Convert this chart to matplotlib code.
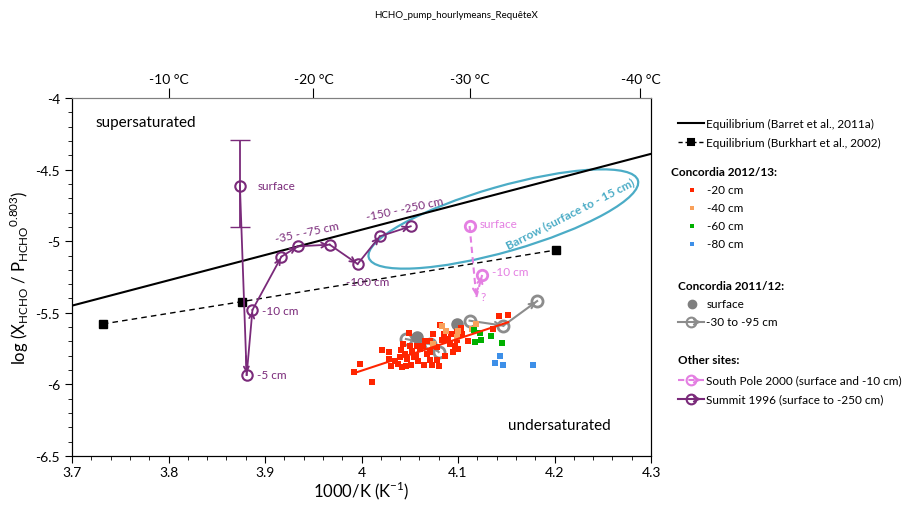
import numpy as np
import matplotlib
matplotlib.use('Agg')
import matplotlib.pyplot as plt
from matplotlib.lines import Line2D
from matplotlib.patches import Ellipse, FancyArrowPatch
from matplotlib.transforms import ScaledTranslation
from matplotlib.ticker import MultipleLocator, FuncFormatter

plt.rcParams['font.family'] = ['Lato', 'DejaVu Sans']
plt.rcParams['axes.unicode_minus'] = False

# equilibrium lines
barret_x = [3.70, 4.30]
barret_y = [-5.45, -4.39]
burkhart_x = [3.732, 3.876, 4.202]
burkhart_y = [-5.578, -5.422, -5.061]

# Concordia 2012/13 (by depth)
c20_x = [3.998, 4.011, 4.021, 4.029, 4.031, 4.040, 4.041, 4.038, 4.042, 4.046,
         4.049, 4.050, 4.052, 4.045, 4.051, 4.056, 4.059, 4.065, 4.064, 4.066,
         4.068, 4.071, 4.073, 4.074, 4.074, 4.078, 4.080, 4.081, 4.083, 4.087,
         4.090, 4.095, 4.097, 4.100, 4.093, 4.103, 4.110, 4.136, 4.142, 4.152,
         4.071, 4.057, 4.061, 4.054, 4.047, 4.085, 4.099, 4.104, 4.078, 4.035,
         4.028, 4.043, 4.071, 4.092, 4.099, 3.992]
c20_y = [-5.858, -5.985, -5.758, -5.776, -5.874, -5.811, -5.760, -5.858, -5.881, -5.869,
         -5.643, -5.730, -5.765, -5.788, -5.865, -5.800, -5.835, -5.865, -5.730, -5.695,
         -5.788, -5.827, -5.865, -5.648, -5.730, -5.830, -5.874, -5.583, -5.690, -5.800,
         -5.683, -5.772, -5.730, -5.753, -5.648, -5.606, -5.695, -5.613, -5.520, -5.513,
         -5.776, -5.730, -5.753, -5.811, -5.823, -5.648, -5.632, -5.648, -5.741, -5.835,
         -5.823, -5.718, -5.695, -5.718, -5.688, -5.913]
c40_x = [4.083, 4.088, 4.074, 4.099, 4.100, 4.119, 4.115]
c40_y = [-5.590, -5.625, -5.718, -5.667, -5.625, -5.578, -5.613]
c60_x = [4.117, 4.123, 4.124, 4.118, 4.134, 4.146]
c60_y = [-5.620, -5.643, -5.690, -5.702, -5.664, -5.713]
c80_x = [4.144, 4.138, 4.147, 4.178]
c80_y = [-5.802, -5.853, -5.862, -5.865]

# Concordia 2011/12
c11_surf_x = [4.058, 4.099]
c11_surf_y = [-5.667, -5.580]
c11_deep1_x = [4.046, 4.071, 4.080]
c11_deep1_y = [-5.683, -5.718, -5.774]
c11_deep2_x = [4.112, 4.147, 4.182]
c11_deep2_y = [-5.555, -5.590, -5.418]

# South Pole 2000
sp_x = [4.112, 4.125]
sp_y = [-4.894, -5.236]
sp_q = (4.119, -5.390)

# Summit 1996 (surface, -5, -10, -35..-75, -100, -150..-250)
sm_x = [3.874, 3.881, 3.887, 3.917, 3.934, 3.967, 3.996, 4.019, 4.051]
sm_y = [-4.612, -5.934, -5.480, -5.108, -5.036, -5.024, -5.159, -4.966, -4.896]
sm_err = [[0.29], [0.32]]

top_temps = [-10, -20, -30, -40]

purple = '#7a2a7a'
pink = '#e47fe2'
gray = '#8c8c8c'
cyan = '#4bacc6'


def arrow(ax, x0, y0, x1, y1, color, ls='-', lw=1.3):
    ax.plot([x0, x1], [y0, y1], color=color, ls=ls, lw=lw, zorder=3)
    ax.annotate('', xy=(x1, y1), xytext=(x0 + 0.9 * (x1 - x0), y0 + 0.9 * (y1 - y0)),
                arrowprops=dict(arrowstyle='->', color=color, lw=lw, shrinkA=0, shrinkB=1,
                                mutation_scale=9), zorder=3)


fig = plt.figure(figsize=(9.12, 5.06), dpi=100)
ax = fig.add_axes([72 / 912, 1 - 457 / 506, 579 / 912, 358 / 506])

ax.plot(barret_x, barret_y, color='k', lw=1.5, zorder=2)
ax.plot(burkhart_x, burkhart_y, color='k', lw=1, ls=(0, (4, 3)), marker='s', ms=6, zorder=2)

# Concordia 2011/12
for xs, ys in [(c11_deep1_x, c11_deep1_y), (c11_deep2_x, c11_deep2_y)]:
    for i in range(len(xs) - 1):
        arrow(ax, xs[i], ys[i], xs[i + 1], ys[i + 1], gray, lw=1.5)
    ax.plot(xs, ys, ls='none', marker='o', ms=8, mfc='none', mec=gray, mew=2, zorder=3)
ax.plot(c11_surf_x, c11_surf_y, ls='none', marker='o', ms=8, color='#7f7f7f', zorder=3)

# Concordia 2012/13
ax.plot(c20_x, c20_y, ls='none', marker='s', ms=4.5, color='#ff2500', mew=0, zorder=4)
ax.plot(c40_x, c40_y, ls='none', marker='s', ms=4.5, color='#f9a05a', mew=0, zorder=4)
ax.plot(c60_x, c60_y, ls='none', marker='s', ms=4.5, color='#00b000', mew=0, zorder=4)
ax.plot(c80_x, c80_y, ls='none', marker='s', ms=4.5, color='#3d8fe8', mew=0, zorder=4)
fit = np.polyfit(c20_x, c20_y, 1)
fx = np.array([min(c20_x), max(c20_x)])
ax.plot(fx, np.polyval(fit, fx), color='#ff2500', lw=1.5, zorder=5)

# Summit 1996
ax.errorbar(sm_x[:1], sm_y[:1], yerr=sm_err, color=purple, capsize=7, lw=1.3, ls='none', zorder=3)
for i in range(len(sm_x) - 1):
    arrow(ax, sm_x[i], sm_y[i], sm_x[i + 1], sm_y[i + 1], purple)
ax.plot(sm_x, sm_y, ls='none', marker='o', ms=7.5, mfc='none', mec=purple, mew=1.5, zorder=4)

# South Pole 2000
arrow(ax, sp_x[0], sp_y[0], sp_q[0], sp_q[1], pink, ls=(0, (3, 2)), lw=1.5)
arrow(ax, sp_q[0], sp_q[1], sp_x[1], sp_y[1], pink, ls=(0, (3, 2)), lw=1.5)
ax.plot(sp_x, sp_y, ls='none', marker='o', ms=7.5, mfc='none', mec=pink, mew=2, zorder=4)

# Barrow ellipse
ell = Ellipse((0, 0), 2.80, 0.65, angle=16, fill=False, ec=cyan, lw=1.6,
              transform=fig.dpi_scale_trans + ScaledTranslation(4.147, -4.845, ax.transData))
ax.add_patch(ell)
ax.text(4.216, -4.803, 'Barrow (surface to - 15 cm)', color=cyan, fontsize=8.5, fontweight='bold',
        rotation=27, ha='center', va='center')

# labels
fs = 8.5
ax.text(3.892, -4.608, 'surface', color=purple, fontsize=fs, va='center')
ax.text(3.897, -5.487, '-10 cm', color=purple, fontsize=fs, va='center')
ax.text(3.892, -5.934, '-5 cm', color=purple, fontsize=fs, va='center')
ax.text(3.944, -4.936, '-35 - -75 cm', color=purple, fontsize=fs, ha='center', va='center', rotation=12)
ax.text(4.006, -5.278, '-100 cm', color=purple, fontsize=fs, ha='center', va='center')
ax.text(4.045, -4.768, '-150 - -250 cm', color=purple, fontsize=fs, ha='center', va='center', rotation=12)
ax.text(4.122, -4.873, 'surface', color=pink, fontsize=fs, va='center')
ax.text(4.135, -5.215, '-10 cm', color=pink, fontsize=fs, va='center')
ax.text(4.126, -5.383, '?', color=pink, fontsize=fs, ha='center', va='center')
ax.text(3.724, -4.168, 'supersaturated', fontsize=11, va='center')
ax.text(4.152, -6.283, 'undersaturated', fontsize=11, va='center')

ax.set_xlim(3.7, 4.3)
ax.set_ylim(-6.5, -4)
ax.xaxis.set_major_locator(MultipleLocator(0.1))
ax.xaxis.set_minor_locator(MultipleLocator(0.02))
ax.yaxis.set_major_locator(MultipleLocator(0.5))
ax.yaxis.set_minor_locator(MultipleLocator(0.1))
ax.xaxis.set_major_formatter(FuncFormatter(lambda v, p: '%g' % round(v, 2)))
ax.yaxis.set_major_formatter(FuncFormatter(lambda v, p: '%g' % round(v, 2)))
ax.tick_params(which='both', direction='out', labelsize=10)
ax.tick_params(which='major', length=5)
ax.tick_params(which='minor', length=3)
ax.tick_params(axis='x', which='both', pad=2)
ax.set_xlabel('1000/K (K$^{\\mathregular{-1}}$)', fontsize=12, labelpad=1)
ax.set_ylabel('log (X$_{\\mathregular{HCHO}}$ / P$_{\\mathregular{HCHO}}$$^{\\mathregular{0.803}}$)',
              fontsize=12, labelpad=3)
ax.spines['top'].set_color('#808080')

ax2 = ax.twiny()
ax2.set_xlim(ax.get_xlim())
ax2.set_xticks([1000.0 / (273.15 + t) for t in top_temps])
ax2.set_xticklabels(['%d °C' % t for t in top_temps], fontsize=10)
ax2.tick_params(direction='out', length=7, pad=2)
ax2.spines['top'].set_color('#808080')

fig.text(0.5, 1 - 15 / 506, 'HCHO_pump_hourlymeans_RequêteX', fontsize=7, ha='center', va='center',
         family=['Liberation Sans Narrow', 'Lato', 'DejaVu Sans'])


# legend, built by hand
def fp(px, py):
    return px / 912.0, 1 - py / 506.0


def leg_line(py, color, ls='-', marker=None, mfc=None, arrowhead=False, lw=1.5, ms=7):
    (x0, y), (x1, _) = fp(678, py), fp(704, py)
    fig.add_artist(Line2D([x0, x1], [y, y], color=color, ls=ls, lw=lw))
    if arrowhead:
        fig.add_artist(FancyArrowPatch(fp(696, py), fp(704, py), transform=fig.transFigure,
                                       arrowstyle='->', color=color, lw=lw, mutation_scale=9))
    if marker:
        fig.add_artist(Line2D([fp(691, py)[0]], [y], ls='none', marker=marker, ms=ms,
                              mfc=mfc if mfc else color, mec=color, mew=1.5))


def leg_text(py, s, px=706, bold=False):
    x, y = fp(px, py)
    fig.text(x, y, s, fontsize=8.5, va='center', fontweight='bold' if bold else 'normal')


leg_line(124, 'k')
leg_text(124, 'Equilibrium (Barret et al., 2011a)')
leg_line(143, 'k', ls=(0, (3, 2)), marker='s', lw=1, ms=4.5)
leg_text(143, 'Equilibrium (Burkhart et al., 2002)')
leg_text(172, 'Concordia 2012/13:', px=671, bold=True)
for py, s, c in [(191, '-20 cm', '#ff2500'), (209, '-40 cm', '#f9a05a'),
                 (227, '-60 cm', '#00b000'), (245, '-80 cm', '#3d8fe8')]:
    fig.add_artist(Line2D([fp(692, py)[0]], [fp(692, py)[1]], ls='none', marker='s', ms=3.5,
                          color=c, mew=0))
    leg_text(py, s, px=707)
leg_text(287, 'Concordia 2011/12:', px=678, bold=True)
fig.add_artist(Line2D([fp(692, 305)[0]], [fp(692, 305)[1]], ls='none', marker='o', ms=6,
                      color='#7f7f7f'))
leg_text(305, 'surface', px=707)
leg_line(323, gray, marker='o', mfc='none', arrowhead=True)
leg_text(323, '-30 to -95 cm')
leg_text(360, 'Other sites:', px=678, bold=True)
leg_line(381, pink, ls=(0, (3, 2)), marker='o', mfc='none', arrowhead=True)
leg_text(381, 'South Pole 2000 (surface and -10 cm)')
leg_line(400, purple, marker='o', mfc='none', arrowhead=True)
leg_text(400, 'Summit 1996 (surface to -250 cm)')

fig.savefig('out.png', dpi=100)
